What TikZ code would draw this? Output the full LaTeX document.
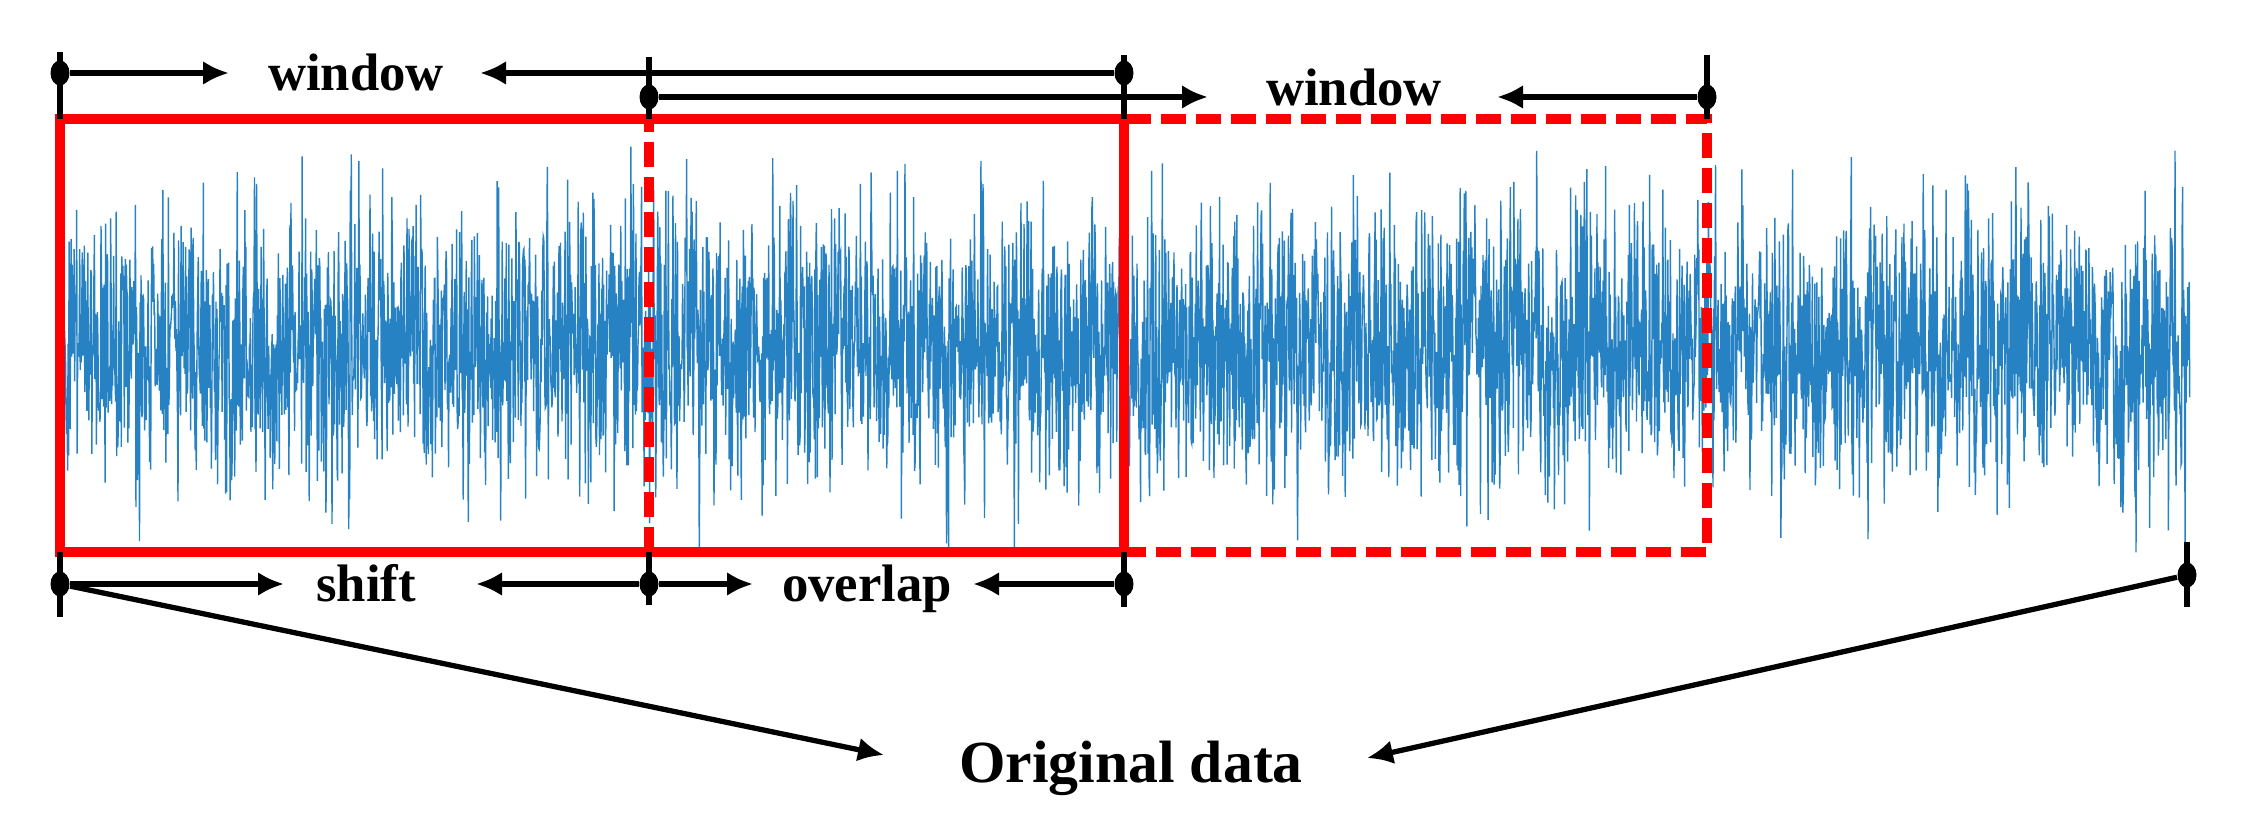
\documentclass[tikz,border=0pt]{standalone}
\usepackage{fontspec}
\setmainfont{Liberation Serif}
\usetikzlibrary{arrows.meta,shapes.geometric}
\definecolor{sigblue}{RGB}{0,108,184}

\begin{document}
\begin{tikzpicture}[scale=1]
			\tikzstyle{every node}=[font=\fontsize{15}{18}\selectfont\bfseries, inner sep=0pt]
			\tikzstyle{dotnode}=[ellipse, fill=black, minimum width=1.9mm, minimum height=2.5mm]
			\tikzstyle{dimarrow}=[line width=1.5pt, -{Latex[length=2.6mm, width=2.4mm]}]
			\tikzstyle{tickline}=[line width=1.5pt]
			\tikzstyle{redbox}=[draw=red, line width=2.8pt]
			\tikzstyle{signal}=[draw=sigblue, line width=0.4pt, draw opacity=0.85]
				\useasboundingbox (0,0) rectangle (22.46,8.34);
				\pgfmathsetseed{7}
				\draw[signal] plot[domain=0.62:21.9, samples=4200] (\x, {4.87+0.6*(rand+rand+rand+rand)});
			
				\draw[redbox, dash pattern=on 2.5mm off 1mm] (6.49,2.82) rectangle (17.07,7.15);
				\draw[redbox] (0.60,2.82) rectangle (11.24,7.15);
			
				\draw[tickline] (0.60,7.82) -- (0.60,7.15);
				\draw[tickline] (6.49,7.77) -- (6.49,7.15);
				\draw[tickline] (11.24,7.79) -- (11.24,7.15);
				\draw[tickline] (17.07,7.79) -- (17.07,7.15);
				\draw[tickline] (0.60,2.82) -- (0.60,2.17);
				\draw[tickline] (6.49,2.82) -- (6.49,2.29);
				\draw[tickline] (11.24,2.82) -- (11.24,2.27);
				\draw[tickline] (21.87,2.92) -- (21.87,2.27);
			
				\node[dotnode] (p1) at (0.60,7.61) {};
				\node[dotnode] (p2) at (11.24,7.61) {};
				\node[dotnode] (q1) at (6.49,7.37) {};
				\node[dotnode] (q2) at (17.07,7.37) {};
				\node[dotnode] (b1) at (0.60,2.50) {};
				\node[dotnode] (b2) at (6.49,2.50) {};
				\node[dotnode] (b3) at (11.24,2.50) {};
				\node[dotnode] (b4) at (21.87,2.59) {};
			
				\node[anchor=base] (win1) at (3.56,7.43) {window};
				\node[anchor=base] (win2) at (13.54,7.28) {window};
				\node[anchor=base] (lshift) at (3.66,2.33) {shift};
				\node[anchor=base] (loverlap) at (8.67,2.33) {overlap};
				\node[anchor=base, font=\fontsize{17}{20}\selectfont\bfseries] (orig) at (11.31,0.52) {Original data};
			
				\coordinate (w1a) at (2.29,7.61);
				\coordinate (w1b) at (4.80,7.61);
				\coordinate (w2a) at (12.08,7.37);
				\coordinate (w2b) at (14.97,7.37);
				\coordinate (sa) at (2.84,2.50);
				\coordinate (sb) at (4.76,2.50);
				\coordinate (oa) at (7.53,2.50);
				\coordinate (ob) at (9.73,2.50);
				\coordinate (ina) at (8.84,0.79);
				\coordinate (inb) at (13.67,0.76);
			
				\draw[dimarrow] (p1) -- (w1a);
				\draw[dimarrow] (p2) -- (w1b);
				\draw[dimarrow] (q1) -- (w2a);
				\draw[dimarrow] (q2) -- (w2b);
				\draw[dimarrow] (b1) -- (sa);
				\draw[dimarrow] (b2) -- (sb);
				\draw[dimarrow] (b2) -- (oa);
				\draw[dimarrow] (b3) -- (ob);
				\draw[dimarrow] (b1) -- (ina);
				\draw[dimarrow] (b4) -- (inb);
			\end{tikzpicture}
\end{document}
